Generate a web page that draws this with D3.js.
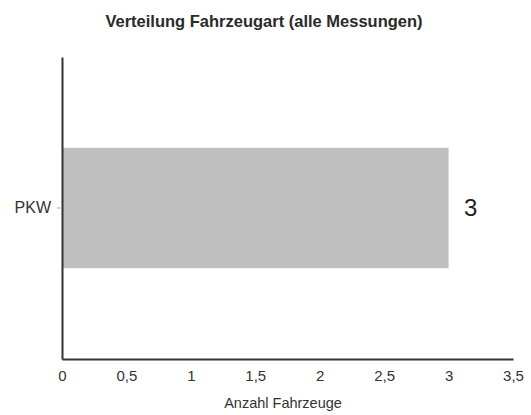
<!DOCTYPE html>
<html>
<head>
<meta charset="utf-8">
<script src="https://cdn.jsdelivr.net/npm/d3@7"></script>
<style>
  body { margin: 0; background: #fff; }
  text { font-family: "Liberation Sans", Arial, sans-serif; }
</style>
</head>
<body>
<svg class="chart"></svg>
<script>
'use strict';

var categories = ['PKW'];
var values = [3];
var xTicks = [0, 0.5, 1, 1.5, 2, 2.5, 3, 3.5];

var width = 531;
var height = 415;
var margin = {top: 57, right: 18, bottom: 56, left: 62};

var de = d3.formatLocale({decimal: ',', thousands: '.', grouping: [3], currency: ['', ' €']});
var fmt = de.format('~g');

var svg = d3.select('.chart')
    .attr('width', width)
    .attr('height', height);

var x = d3.scaleLinear()
    .domain([0, 3.5])
    .range([margin.left, width - margin.right]);

var y = d3.scaleBand()
    .domain(categories)
    .range([margin.top, height - margin.bottom])
    .padding(0.43);

// title
svg.append('text')
    .attr('x', 264)
    .attr('y', 27)
    .attr('text-anchor', 'middle')
    .style('font-size', '16.5px')
    .style('font-weight', 'bold')
    .style('fill', '#2a2a2a')
    .text('Verteilung Fahrzeugart (alle Messungen)');

// bars
svg.selectAll('rect.bar')
    .data(values)
    .enter().append('rect')
    .attr('class', 'bar')
    .attr('x', x(0))
    .attr('y', function (d, i) {return y(categories[i]);})
    .attr('width', function (d) {return x(d) - x(0);})
    .attr('height', y.bandwidth())
    .style('fill', '#bfbfbf');

// value labels
svg.selectAll('text.val')
    .data(values)
    .enter().append('text')
    .attr('class', 'val')
    .attr('x', function (d) {return x(d) + 22;})
    .attr('y', function (d, i) {return y(categories[i]) + y.bandwidth() / 2;})
    .attr('dy', '0.35em')
    .attr('text-anchor', 'middle')
    .style('font-size', '24px')
    .style('fill', '#222')
    .text(function (d) {return fmt(d);});

// x axis
var xAxis = svg.append('g')
    .attr('transform', 'translate(0,' + (height - margin.bottom) + ')')
    .call(d3.axisBottom(x).tickValues(xTicks).tickFormat(fmt).tickSize(0).tickPadding(11));
xAxis.select('.domain').attr('stroke', '#333').attr('stroke-width', 2);
xAxis.selectAll('text')
    .style('font-size', '15px')
    .style('font-family', '"Liberation Sans", Arial, sans-serif')
    .style('fill', '#333');

// y axis
var yAxis = svg.append('g')
    .attr('transform', 'translate(' + margin.left + ',0)')
    .call(d3.axisLeft(y).tickSize(5).tickPadding(6).tickSizeOuter(0));
yAxis.select('.domain').attr('stroke', '#333').attr('stroke-width', 2);
yAxis.selectAll('.tick line').attr('stroke', '#aaa');
yAxis.selectAll('text')
    .style('font-size', '16px')
    .style('font-family', '"Liberation Sans", Arial, sans-serif')
    .style('fill', '#333');

// x axis title
svg.append('text')
    .attr('x', 283)
    .attr('y', 408)
    .attr('text-anchor', 'middle')
    .style('font-size', '14.5px')
    .style('fill', '#333')
    .text('Anzahl Fahrzeuge');
</script>
</body>
</html>
